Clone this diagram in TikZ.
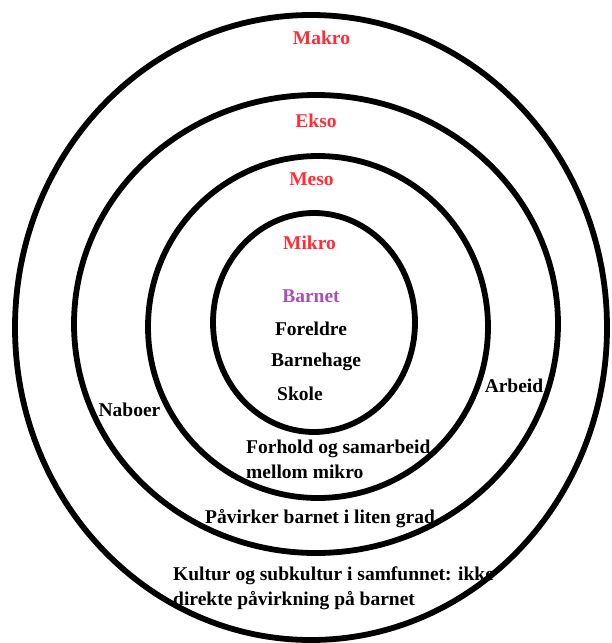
\documentclass[tikz,border=0pt]{standalone}
\usepackage{fontspec}
\setmainfont{Liberation Serif}
\usetikzlibrary{positioning}
\definecolor{lagrod}{RGB}{255,45,55}
\definecolor{barnlilla}{RGB}{170,80,180}
\tikzset{
	ring/.style={draw=black, line width=5.8pt},
	tekst/.style={font=\fontsize{19.5}{25}\selectfont\bfseries, inner sep=0pt, align=left},
	lag/.style={tekst, text=lagrod},
}

\begin{document}
\begin{tikzpicture}[x=1pt,y=-1pt]
	\useasboundingbox (0,0) rectangle (612,643);

	% ringene, fra ytterst og inn
	\draw[ring] (311,327.5) ellipse [x radius=296, y radius=312.5];
	\draw[ring] (316,324) ellipse [x radius=242, y radius=229];
	\draw[ring] (318,327) ellipse [x radius=170, y radius=171];
	\draw[ring] (314,322.5) ellipse [x radius=101, y radius=109.5];

	% navn paa lagene
	\node[lag] (makro) at (321.5,38) {Makro};
	\node[lag] (ekso) at (316,121) {Ekso};
	\node[lag] (meso) at (311.5,179) {Meso};
	\node[lag] (mikro) at (309.5,243) {Mikro};

	% mikro
	\node[tekst, text=barnlilla] (barnet) at (311,296) {Barnet};
	\node[tekst] (foreldre) at (311,329) {Foreldre};
	\node[tekst] (barnehage) at (316,362) {Barnehage};
	\node[tekst] (skole) at (300,394) {Skole};

	% meso og ekso
	\node[tekst, anchor=base west] (forhold) at (246,478) {Forhold og samarbeid\\mellom mikro};
	\node[tekst] (naboer) at (129.5,410) {Naboer};
	\node[tekst] (arbeid) at (514,386) {Arbeid};
	\node[tekst, anchor=base west] (paavirker) at (205,523) {Påvirker barnet i liten grad};

	% makro
	\node[tekst, anchor=base west] (kultur) at (173,605) {Kultur og subkultur i samfunnet: ikke\\direkte påvirkning på barnet};
\end{tikzpicture}
\end{document}
